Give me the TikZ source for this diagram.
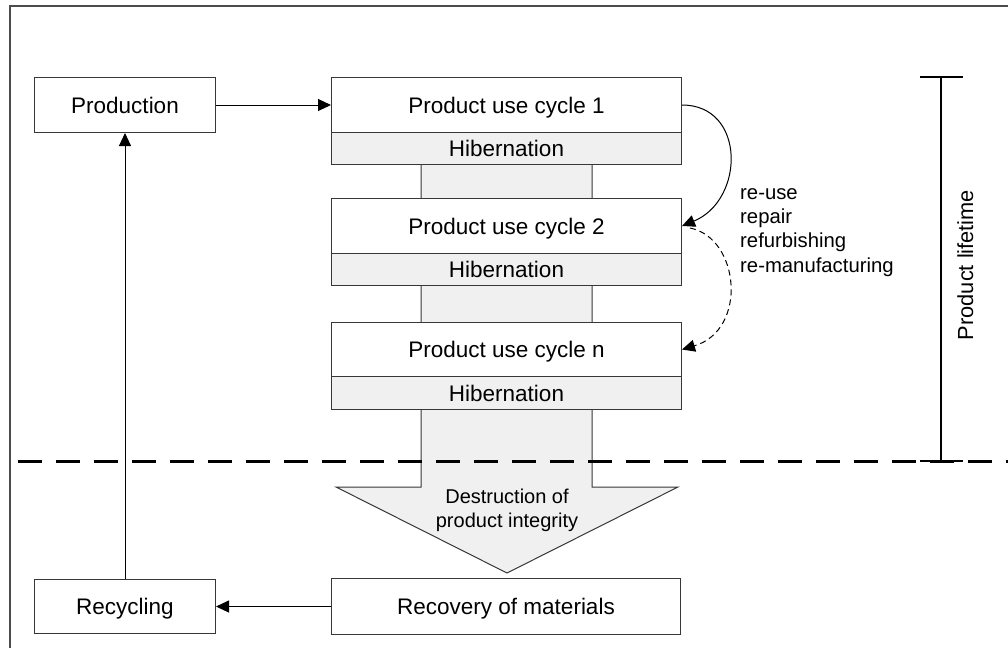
\documentclass[tikz,border=0pt]{standalone}
\usepackage{fontspec}
\setmainfont{Liberation Sans}
\usetikzlibrary{arrows.meta}
\definecolor{hibfill}{RGB}{240,240,240}
\definecolor{edge}{RGB}{55,55,55}

\begin{document}
\begin{tikzpicture}[x=1pt,y=-1pt,
  txt/.style={font=\fontsize{22.5}{24.4}\selectfont},
  note/.style={font=\fontsize{20.3}{24.4}\selectfont, inner sep=0pt},
  box/.style={txt, draw=edge, line width=1pt, fill=white, inner sep=0pt,
    anchor=north west, text height=16pt, text depth=0pt},
  side/.style={box, minimum width=181pt, minimum height=55pt},
  usebox/.style={box, minimum width=350pt, minimum height=55pt},
  hibbox/.style={box, fill=hibfill, minimum width=350pt, minimum height=32pt},
  conn/.style={draw=black, line width=1pt, -{Triangle[length=13pt,width=12pt]}},
  bar/.style={draw=black, line width=2.6pt},
  separator/.style={draw=black, line width=3pt, dash pattern=on 24pt off 14pt, dash phase=30pt}
]
\useasboundingbox (0,0) rectangle (1008,648);

% outer frame
\draw[black!70, line width=1.3pt] (10,648) -- (10,6) -- (1008,6);

% broad arrow running down through the use cycles
\draw[edge, fill=hibfill, line width=1pt]
  (421,150) -- (421,487) -- (336,487) -- (507,573) -- (678,487) -- (592,487) -- (592,150) -- cycle;

% boxes
\node[side] (prod) at (34,77) {Production};
\node[usebox] (puc1) at (331,77) {Product use cycle 1};
\node[hibbox] (hib1) at (331,132) {Hibernation};
\node[usebox] (puc2) at (331,198) {Product use cycle 2};
\node[hibbox] (hib2) at (331,253) {Hibernation};
\node[usebox, minimum height=54pt] (pucn) at (331,322) {Product use cycle n};
\node[hibbox, minimum height=33pt] (hibn) at (331,376) {Hibernation};
\node[side, minimum height=54pt] (recyc) at (34,579) {Recycling};
\node[usebox, minimum width=349pt, minimum height=56pt] (recov) at (331,578) {Recovery of materials};

% text inside the broad arrow
\node[font=\fontsize{20}{24}\selectfont, anchor=base, inner sep=0pt] (destr) at (507,503)
  {\begin{tabular}[t]{@{}c@{}}Destruction of\\product integrity\end{tabular}};

% end of product lifetime
\draw[separator] (10,461) -- (1008,461);

% main flow
\draw[conn] (prod.east) -- (puc1.west);
\draw[conn] (recov.west) -- (recyc.east);
\draw[conn] (recyc.north) -- (prod.south);

% extending the use phase
\coordinate (dstart) at (690,228);
\draw[conn] (puc1.east) .. controls (746,105) and (745,200) .. (puc2.east);
\draw[conn, dash pattern=on 6pt off 4pt] (dstart) .. controls (740,238) and (748,330) .. (pucn.east);
\node[note, anchor=base west] (ops) at (740,199)
  {\begin{tabular}[t]{@{}l@{}}re-use\\repair\\refurbishing\\re-manufacturing\end{tabular}};

% product lifetime bar
\coordinate (ltop) at (941,77);
\coordinate (lbot) at (941,461);
\draw[bar] (ltop) -- (lbot);
\draw[bar] (920,77) -- (963,77);
\draw[bar] (920,461) -- (963,461);
\node[font=\fontsize{21.8}{24}\selectfont, rotate=90, anchor=base, inner sep=0pt] (life) at (973,265) {Product lifetime};
\end{tikzpicture}
\end{document}
